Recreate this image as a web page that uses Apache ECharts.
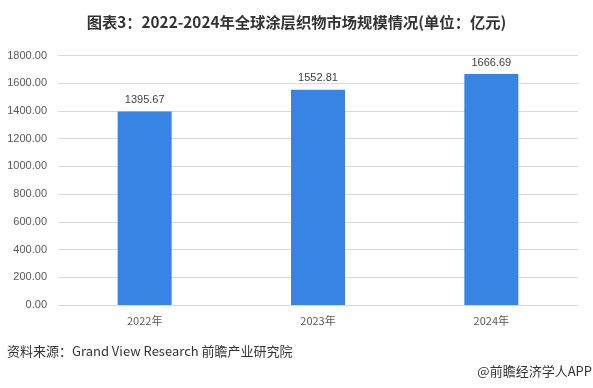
<!DOCTYPE html>
<html><head><meta charset="utf-8">
<script src="https://cdn.jsdelivr.net/npm/echarts@6/dist/echarts.min.js"></script>
<style>html,body{margin:0;padding:0;background:#fff;}#c{width:593px;height:388px;}</style>
</head><body><div id="c"></div>
<script>
const categories = ['2022年', '2023年', '2024年'];
const values = [1395.67, 1552.81, 1666.69];
const yTicks = { min: 0, max: 1800, interval: 200 };
const titleText = '图表3：2022-2024年全球涂层织物市场规模情况(单位：亿元)';
const sourceText = '资料来源：Grand View Research 前瞻产业研究院';
const brandText = '@前瞻经济学人APP';

const chart = echarts.init(document.getElementById('c'));
chart.setOption({
  animation: false,
  backgroundColor: '#fff',
  title: {
    text: titleText, left: 'center', top: 10,
    textStyle: { fontSize: 15.3, fontWeight: 'bold', color: '#333', fontFamily: 'Noto Sans CJK SC' }
  },
  grid: { left: 58, right: 15, top: 55.5, bottom: 83 },
  xAxis: {
    type: 'category', data: categories,
    axisLine: { lineStyle: { color: '#d9d9d9', width: 1 } },
    axisTick: { show: false },
    axisLabel: { color: '#595959', fontSize: 11, margin: 10, fontFamily: 'Noto Sans CJK SC' }
  },
  yAxis: {
    type: 'value', min: yTicks.min, max: yTicks.max, interval: yTicks.interval,
    axisLine: { show: false }, axisTick: { show: false },
    splitLine: { lineStyle: { color: '#d9d9d9' } },
    axisLabel: { color: '#595959', fontSize: 11, margin: 11, formatter: v => v.toFixed(2), fontFamily: 'Liberation Sans' }
  },
  series: [{
    type: 'bar', data: values, barWidth: 54,
    itemStyle: { color: '#3884e5' },
    label: { show: true, position: 'top', color: '#404040', fontSize: 11, distance: 6, formatter: p => p.value.toFixed(2), fontFamily: 'Liberation Sans' }
  }],
  graphic: [
    { type: 'text', left: 7, top: 345, style: { text: sourceText, fontSize: 13, fill: '#333', fontFamily: 'Noto Sans CJK SC' } },
    { type: 'text', right: 1, top: 365, style: { text: brandText, fontSize: 13, fill: '#333', fontFamily: 'Noto Sans CJK SC' } }
  ]
});
</script></body></html>
